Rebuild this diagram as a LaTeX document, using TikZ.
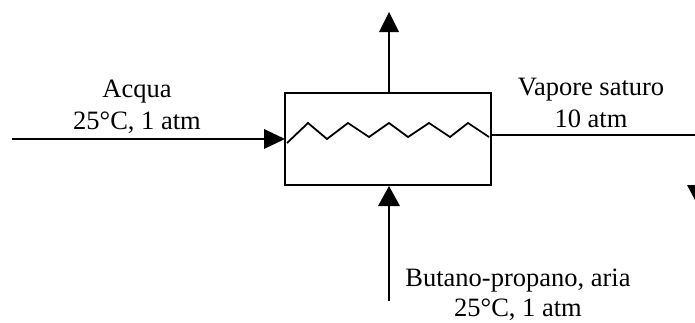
\documentclass[tikz,border=0pt]{standalone}
\usepackage{fontspec}
\setmainfont{Liberation Serif}
\begin{document}
\begin{tikzpicture}[x=1pt,y=-1pt,
  line/.style={draw=black,line width=1.6pt},
  tip/.style={fill=black,draw=none},
  lab/.style={font=\fontsize{26.5}{30}\selectfont,align=center,inner sep=0pt,anchor=base}]
\useasboundingbox (0,0) rectangle (695,322);
\node[draw=black,line width=1.5pt,minimum width=206pt,minimum height=92pt,inner sep=0pt,anchor=north west,outer sep=0pt] (box) at (285,93) {};
\coordinate (inL) at (12,139);
\coordinate (wl) at (287,143);
\coordinate (wr) at (489,137);
\coordinate (outR) at (695,135);
\coordinate (top) at (389,12);
\coordinate (botS) at (389,301);
\draw[line] (inL) -- (266,139);
\path[tip] (285,139) -- (264,129) -- (264,149) -- cycle;
\draw[line,line width=1.8pt] (wl) -- (308,123) -- (327,139) -- (348,123) -- (369,137) -- (389,123) -- (408,137) -- (429,123) -- (450,137) -- (468,123) -- (wr);
\draw[line] (box.east |- outR) -- (outR);
\draw[line] (box.north -| top) -- (389,30);
\path[tip] (top) -- (379,32) -- (399,32) -- cycle;
\draw[line] (botS) -- (389,204);
\path[tip] (389,186) -- (378,206) -- (400,206) -- cycle;
\path[tip] (695,200) -- (687,185) -- (695,185) -- cycle;
\node[lab] (a) at (137,97) {Acqua};
\node[lab] (b) at (137,129) {25°C, 1 atm};
\node[lab] (c) at (591,95) {Vapore saturo};
\node[lab] (d) at (591,127) {10 atm};
\node[lab] (e) at (518,286) {Butano-propano, aria};
\node[lab] (f) at (518,316.5) {25°C, 1 atm};
\end{tikzpicture}
\end{document}
